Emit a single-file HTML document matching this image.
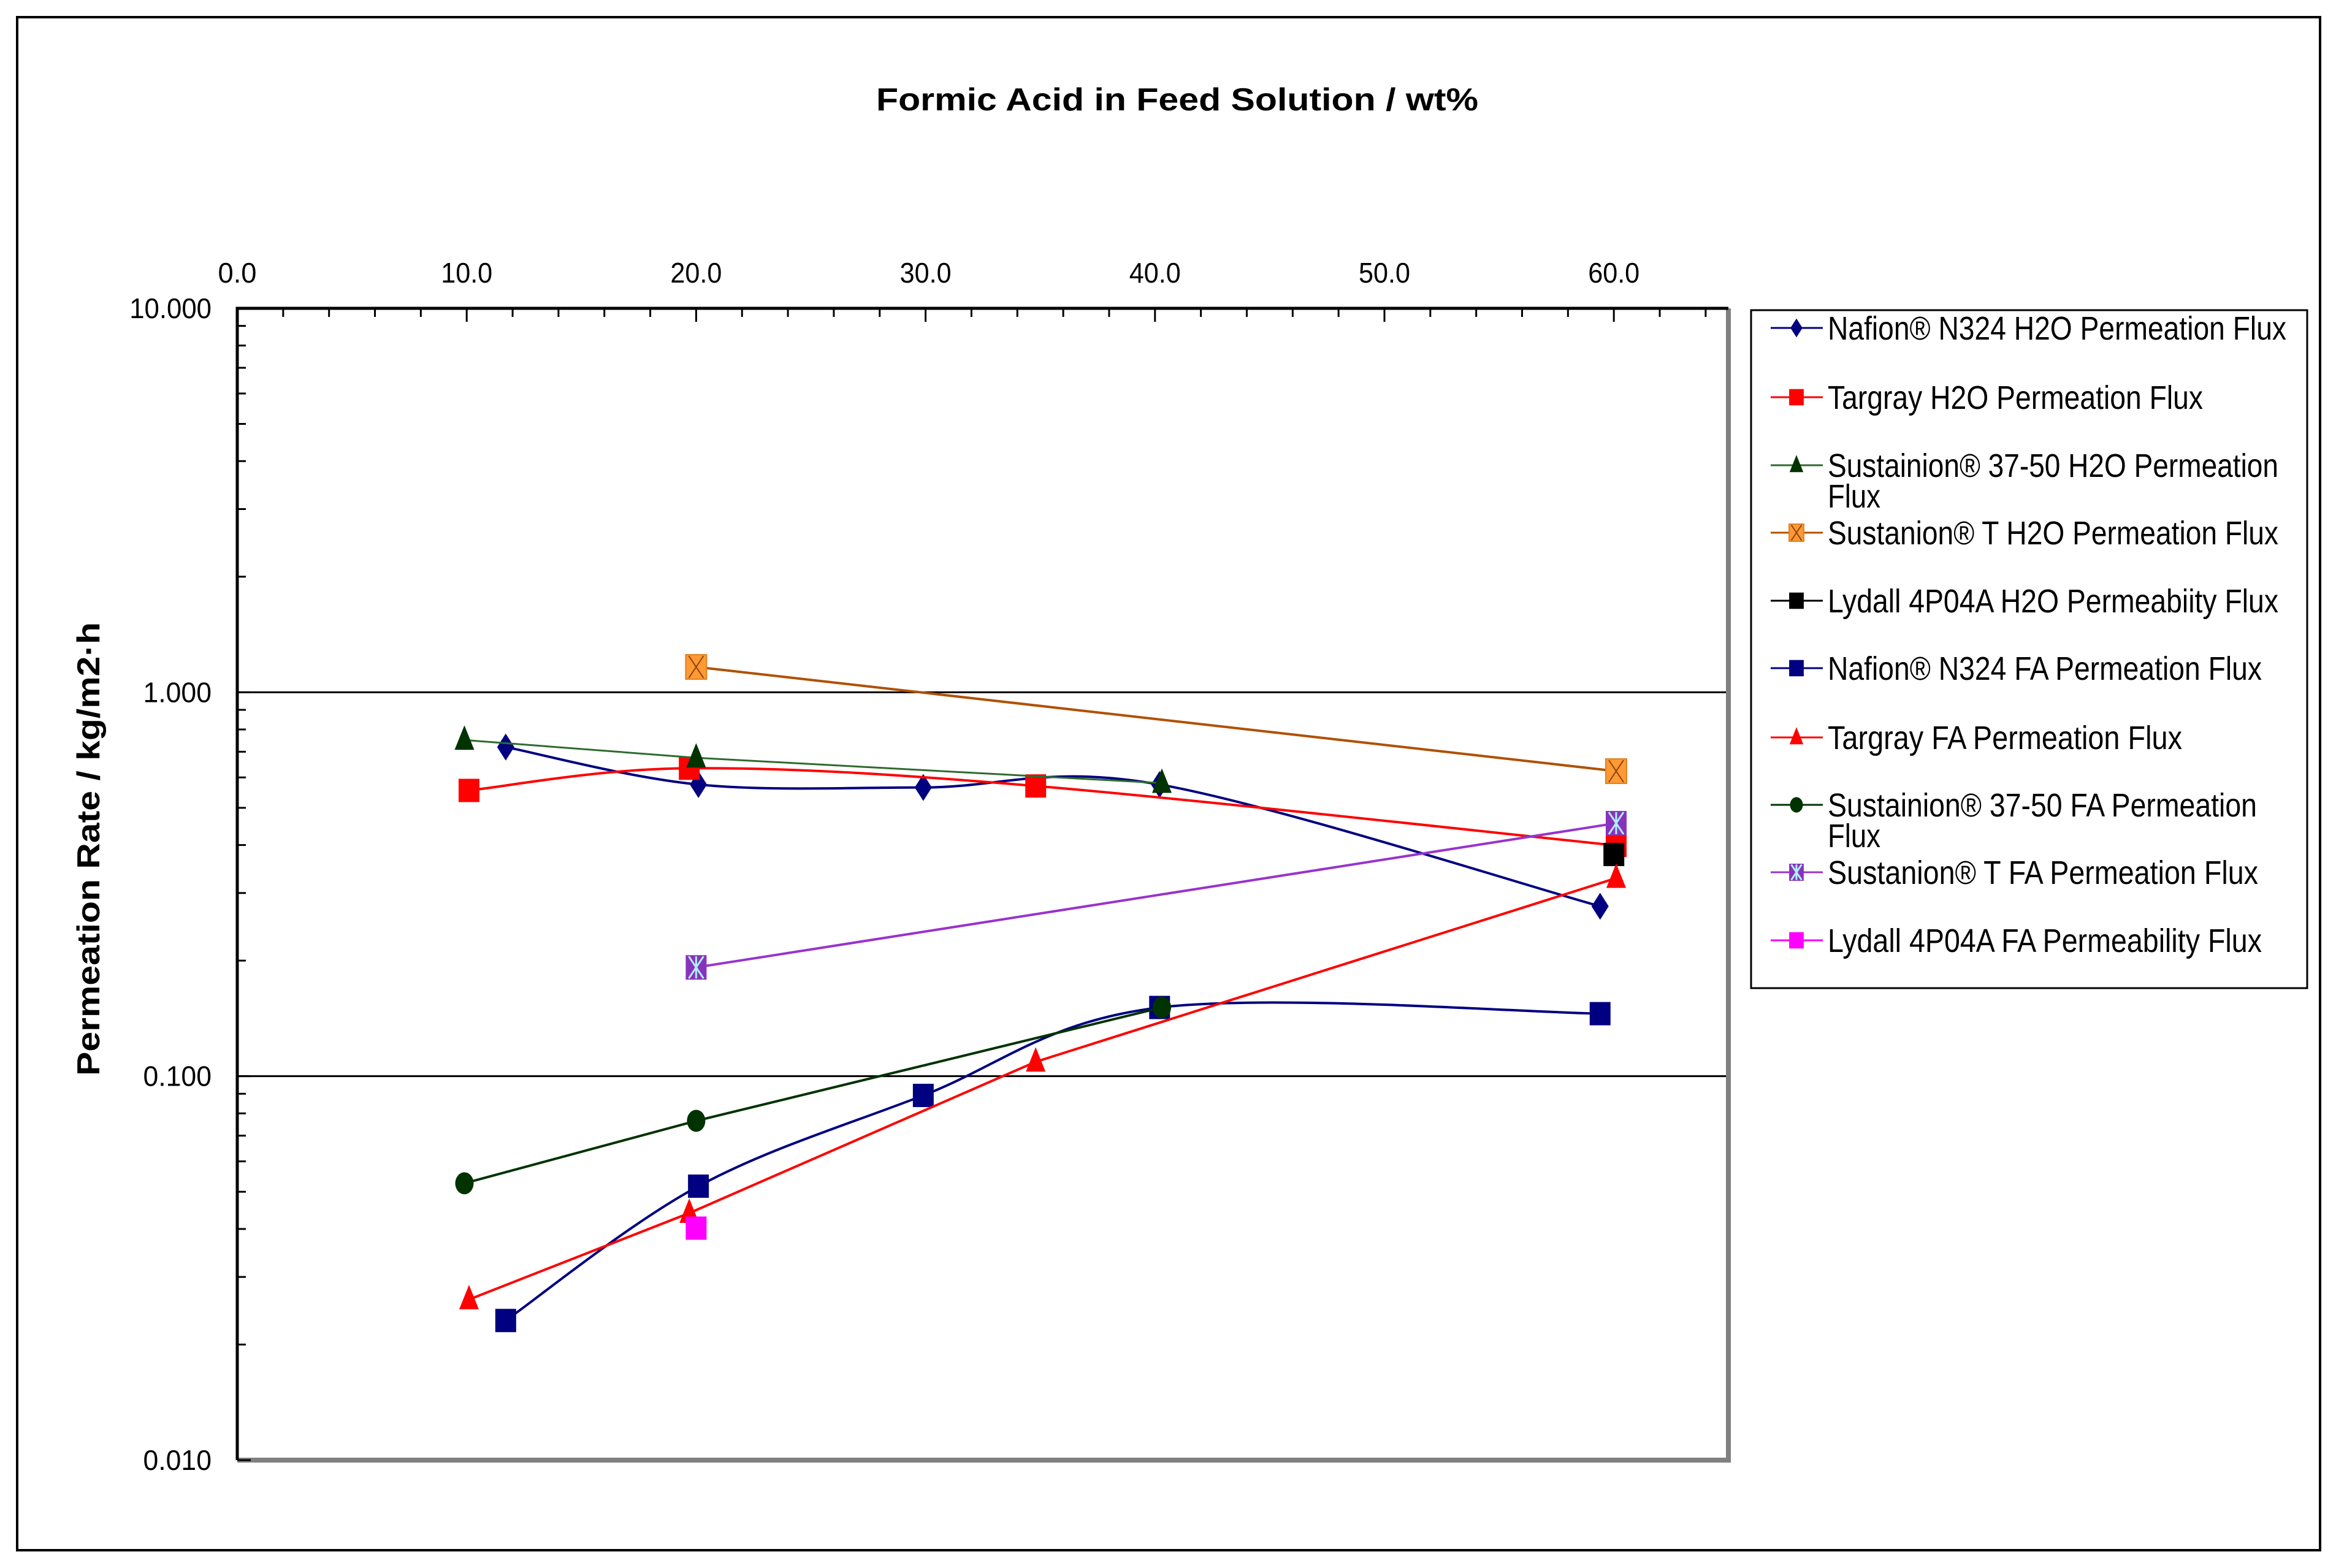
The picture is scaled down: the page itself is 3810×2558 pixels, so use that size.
<!DOCTYPE html>
<html><head><meta charset="utf-8"><style>
html,body{margin:0;padding:0;background:#fff;overflow:hidden;}
svg{display:block;font-family:"Liberation Sans",Arial,sans-serif;}
</style></head><body>
<svg id="chart" xmlns="http://www.w3.org/2000/svg" width="3810" height="2558" viewBox="0 0 3810 2558">
<rect x="28" y="28" width="3756" height="2501" fill="#fff" stroke="#000" stroke-width="4"/>
<text x="1920" y="180" text-anchor="middle" font-size="52" font-weight="bold" textLength="982" lengthAdjust="spacingAndGlyphs">Formic Acid in Feed Solution / wt%</text>
<text transform="translate(162,1385) rotate(-90)" text-anchor="middle" font-size="52" font-weight="bold" textLength="740" lengthAdjust="spacingAndGlyphs">Permeation Rate / kg/m2·h</text>
<g id="grid"></g><g id="axes"></g><g id="series"></g><g id="legend"></g>
</svg>
<script>
const xTicks = [0, 10, 20, 30, 40, 50, 60];
const xTickLabels = ["0.0", "10.0", "20.0", "30.0", "40.0", "50.0", "60.0"];
const yTicks = [10, 1, 0.1, 0.01];
const yTickLabels = ["10.000", "1.000", "0.100", "0.010"];
const seriesNames = ["Nafion® N324 H2O Permeation Flux","Targray H2O Permeation Flux","Sustainion® 37-50 H2O Permeation Flux","Sustanion® T H2O Permeation Flux","Lydall 4P04A H2O Permeabiity Flux","Nafion® N324 FA Permeation Flux","Targray FA Permeation Flux","Sustainion® 37-50 FA Permeation Flux","Sustanion® T FA Permeation Flux","Lydall 4P04A FA Permeability Flux"];
const nafionH2OX = [11.7, 20.1, 29.9, 40.2, 59.4];
const nafionH2OY = [0.72, 0.575, 0.565, 0.575, 0.277];
const targrayH2OX = [10.1, 19.7, 34.8, 60.1];
const targrayH2OY = [0.555, 0.634, 0.570, 0.399];
const sus3750H2OX = [9.9, 20.0, 40.3];
const sus3750H2OY = [0.751, 0.675, 0.580];
const susTH2OX = [20.0, 60.1];
const susTH2OY = [1.164, 0.623];
const lydallH2OX = [60.0];
const lydallH2OY = [0.378];
const nafionFAX = [11.7, 20.1, 29.9, 40.2, 59.4];
const nafionFAY = [0.0231, 0.0517, 0.0891, 0.151, 0.1455];
const targrayFAX = [10.1, 19.7, 34.8, 60.1];
const targrayFAY = [0.0262, 0.044, 0.109, 0.328];
const sus3750FAX = [9.9, 20.0, 40.3];
const sus3750FAY = [0.0526, 0.0765, 0.151];
const susTFAX = [20.0, 60.1];
const susTFAY = [0.192, 0.456];
const lydallFAX = [20.0];
const lydallFAY = [0.0402];

const NS = "http://www.w3.org/2000/svg";
const L = 387, R = 2819, T = 503, B = 2382;
const X0 = 387, PER10 = 374.2;
function xs(v){ return X0 + v * PER10 / 10; }
function ys(v){ return T + (1 - Math.log10(v)) * (B - T) / 3; }
function mk(tag, attrs, parent){ const e = document.createElementNS(NS, tag); for (const k in attrs) e.setAttribute(k, attrs[k]); if(parent) parent.appendChild(e); return e; }

const grid = document.getElementById('grid'), axes = document.getElementById('axes'), sg = document.getElementById('series'), lg = document.getElementById('legend');
[1, 0.1].forEach(v => {
  const g = mk('line', {x1:L, x2:R, y1:ys(v), y2:ys(v), stroke:'#000', 'stroke-width':3}, grid);
  
  
});
const fr = mk('path', {d:`M${R},${T} L${R},${B} L${L},${B}`, fill:'none', stroke:'#808080', 'stroke-width':8}, axes);


const ax = mk('path', {d:`M${L},${B} L${L},${T} L${R},${T}`, fill:'none', stroke:'#000', 'stroke-width':5}, axes);


for (let v = 0; xs(v) < R; v += 2) {
  const major = v % 10 === 0;
  mk('line', {x1:xs(v), x2:xs(v), y1:T, y2:T + (major ? 22 : 14), stroke:'#000', 'stroke-width':3}, axes);
}
xTicks.forEach((v, i) => {
  const t = mk('text', {x:xs(v), y:461, 'text-anchor':'middle', 'font-size':46, textLength:(xTickLabels[i].length*21), lengthAdjust:'spacingAndGlyphs'}, axes);
  t.textContent = xTickLabels[i];
  
  
});
for (let d = 0; d < 3; d++) {
  for (let m = 1; m <= 9; m++) {
    const val = Math.pow(10, -d) * m;
    const y = ys(val);
    mk('line', {x1:L, x2:L + (m === 1 ? 22 : 14), y1:y, y2:y, stroke:'#000', 'stroke-width':3}, axes);
  }
}
yTicks.forEach((v, i) => {
  const t = mk('text', {x:345, y:ys(v) + 16, 'text-anchor':'end', 'font-size':46, textLength:(yTickLabels[i].length*22.3), lengthAdjust:'spacingAndGlyphs'}, axes);
  t.textContent = yTickLabels[i];
  
  
});

function smoothPath(pts){
  let d = `M${pts[0][0]},${pts[0][1]}`;
  for (let i = 0; i < pts.length - 1; i++) {
    const p0 = pts[i-1] || pts[i], p1 = pts[i], p2 = pts[i+1], p3 = pts[i+2] || p2;
    const t = 6;
    const c1 = [p1[0] + (p2[0]-p0[0])/t, p1[1] + (p2[1]-p0[1])/t];
    const c2 = [p2[0] - (p3[0]-p1[0])/t, p2[1] - (p3[1]-p1[1])/t];
    d += ` C${c1[0]},${c1[1]} ${c2[0]},${c2[1]} ${p2[0]},${p2[1]}`;
  }
  return d;
}
function marker(g, type, x, y, col, s){
  s = s || 1;
  let e;
  if (type === 'diamond') e = mk('polygon', {points:`${x},${y-22*s} ${x+14*s},${y} ${x},${y+22*s} ${x-14*s},${y}`, fill:col}, g);
  else if (type === 'square') e = mk('rect', {x:x-17*s, y:y-19*s, width:34*s, height:38*s, fill:col}, g);
  else if (type === 'triangle') e = mk('polygon', {points:`${x},${y-24*s} ${x+16*s},${y+16*s} ${x-16*s},${y+16*s}`, fill:col}, g);
  else if (type === 'circle') e = mk('ellipse', {cx:x, cy:y, rx:15*s, ry:18*s, fill:col}, g);
  else if (type === 'xbox') {
    e = mk('rect', {x:x-17*s, y:y-20*s, width:34*s, height:40*s, fill:'#FF9933', stroke:'#E08020', 'stroke-width':2}, g);
    mk('path', {d:`M${x-12*s},${y-18*s} L${x+12*s},${y+18*s} M${x+12*s},${y-18*s} L${x-12*s},${y+18*s}`, stroke:'#8B4513', 'stroke-width':2}, g);
  } else if (type === 'starbox') {
    e = mk('rect', {x:x-17*s, y:y-20*s, width:34*s, height:40*s, fill:'#8833BB'}, g);
    mk('path', {d:`M${x-12*s},${y-18*s} L${x+12*s},${y+18*s} M${x+12*s},${y-18*s} L${x-12*s},${y+18*s} M${x},${y-18*s} L${x},${y+18*s}`, stroke:'#AEEFFF', 'stroke-width':3}, g);
  }
  return e;
}
const series = [
  {xs:nafionH2OX, ys:nafionH2OY, line:'#000080', mk:'diamond', mc:'#000080', smooth:true, w:4},
  {xs:targrayH2OX, ys:targrayH2OY, line:'#FF0000', mk:'square', mc:'#FF0000', smooth:true, w:4},
  {xs:sus3750H2OX, ys:sus3750H2OY, line:'#2E6B2E', mk:'triangle', mc:'#003300', smooth:false, w:3},
  {xs:susTH2OX, ys:susTH2OY, line:'#B05000', mk:'xbox', mc:'#FF9933', smooth:false, w:4},
  {xs:lydallH2OX, ys:lydallH2OY, line:'#000', mk:'square', mc:'#000', smooth:false, w:4},
  {xs:nafionFAX, ys:nafionFAY, line:'#000080', mk:'square', mc:'#000080', smooth:true, w:4},
  {xs:targrayFAX, ys:targrayFAY, line:'#FF0000', mk:'triangle', mc:'#FF0000', smooth:false, w:4},
  {xs:sus3750FAX, ys:sus3750FAY, line:'#003300', mk:'circle', mc:'#003300', smooth:false, w:4},
  {xs:susTFAX, ys:susTFAY, line:'#9933CC', mk:'starbox', mc:'#8833BB', smooth:false, w:4},
  {xs:lydallFAX, ys:lydallFAY, line:'#FF00FF', mk:'square', mc:'#FF00FF', smooth:false, w:4}
];
const slugs = ['nafion-h2o','targray-h2o','sustainion-3750-h2o','sustanion-t-h2o','lydall-h2o','nafion-fa','targray-fa','sustainion-3750-fa','sustanion-t-fa','lydall-fa'];
series.forEach((s, i) => {
  const g = mk('g', {}, sg);
  
  
  const pts = s.xs.map((x, j) => [xs(x), ys(s.ys[j])]);
  if (pts.length > 1) {
    const d = s.smooth ? smoothPath(pts) : 'M' + pts.map(p => p.join(',')).join(' L');
    const p = mk('path', {d:d, fill:'none', stroke:s.line, 'stroke-width':s.w}, g);
    
    
  }
  pts.forEach(p => {
    const m = marker(g, s.mk, p[0], p[1], s.mc);
    
    
  });
});
const lb = mk('rect', {x:2856, y:506, width:907, height:1106, fill:'#fff', stroke:'#000', 'stroke-width':3}, lg);


const legendY = [535, 648, 759, 869, 980, 1090, 1203, 1313, 1423, 1534];
const legendLines = [["Nafion® N324 H2O Permeation Flux"],["Targray H2O Permeation Flux"],["Sustainion® 37-50 H2O Permeation","Flux"],["Sustanion® T H2O Permeation Flux"],["Lydall 4P04A H2O Permeabiity Flux"],["Nafion® N324 FA Permeation Flux"],["Targray FA Permeation Flux"],["Sustainion® 37-50 FA Permeation","Flux"],["Sustanion® T FA Permeation Flux"],["Lydall 4P04A FA Permeability Flux"]];
const legendW = [748, 612, 735, 735, 735, 708, 578, 700, 702, 708];
series.forEach((s, i) => {
  const g = mk('g', {}, lg);
  
  
  const y = legendY[i];
  mk('line', {x1:2888, x2:2973, y1:y, y2:y, stroke:s.line, 'stroke-width':3}, g);
  marker(g, s.mk, 2930, y, s.mc, 0.7);
  legendLines[i].forEach((ln, k) => {
    const t = mk('text', {x:2981, y:y + 19 + k*50, 'font-size':54}, g);
    if (k === 0) { t.setAttribute('textLength', legendW[i]); t.setAttribute('lengthAdjust', 'spacingAndGlyphs'); }
    else { t.setAttribute('textLength', 86); t.setAttribute('lengthAdjust', 'spacingAndGlyphs'); }
    t.textContent = ln;
  });
});
</script>
</body></html>
